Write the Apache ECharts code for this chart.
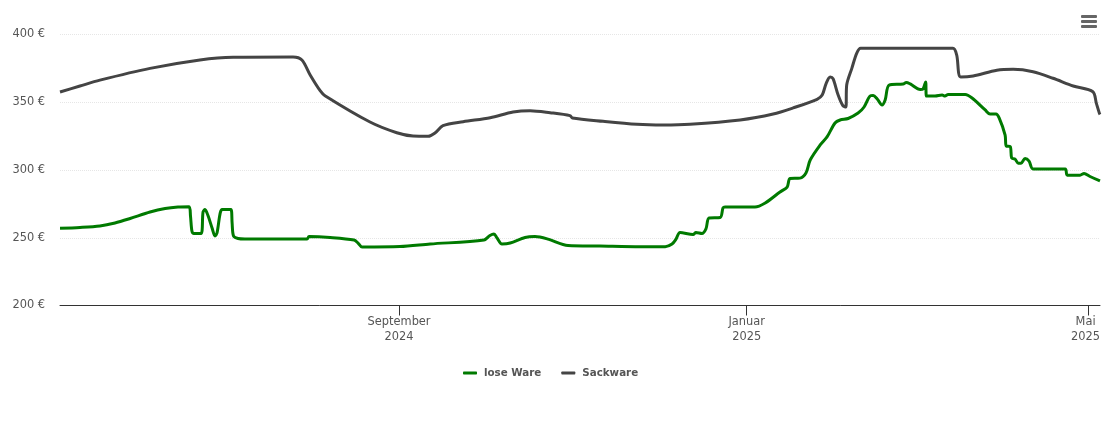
<!DOCTYPE html>
<html><head><meta charset="utf-8">
<script src="https://cdn.jsdelivr.net/npm/echarts@6/dist/echarts.min.js"></script>
<style>html,body{margin:0;padding:0;background:#fff}#c{width:1110px;height:423px}</style>
</head><body><div id="c"></div>
<script>
const startDate = '2024-05-05';
const endDay = 365;
const yTicks = { min: 200, max: 400, step: 50 };
const tickDates = ['2024-09-01', '2025-01-01', '2025-05-01'];
const tickLabels = ['September\n2024', 'Januar\n2025', 'Mai\n2025'];
const seriesNames = ['lose Ware', 'Sackware'];

const loseDays = [0,7,14,19.3,24.6,31.6,36.9,41.4,45.3,45.8,46.3,47,49.5,50.2,50.9,52,53.4,54.4,55.1,56.2,56.9,60,60.4,60.9,62.5,64.9,86.7,87.4,94.8,103.2,104.6,106,119.3,129.9,148.8,150.9,152.3,153.4,155.1,158,163.2,166.7,171.3,178.3,189.5,203.6,212.4,214.8,216.2,217.6,222.2,223.2,225.3,226.7,227.8,231.7,232.7,233.4,243.9,247.5,252.7,255.2,256.2,259.7,261.8,263.3,266.8,269.2,272,273.8,276.6,280.1,282.2,284.3,285.4,286.8,288.5,289.6,291,295.9,297,298.4,301.9,302.9,303.8,304.1,307.1,309.6,310.6,311.7,317.7,320.1,324.7,326.4,328.5,329.6,331.7,332.1,333.5,334,335.2,336.3,337.3,338.7,340.1,341.5,352.8,353.5,358,359.4,361.5,365];
const loseValues = [257,257.6,258.7,260.9,264.2,269,271.6,272.7,272.9,266,255,253.1,253.1,269,270.8,266,257,251.3,253.5,268,270.8,270.8,261,251.3,249.4,249,249,250.9,250.2,248.3,246.1,243.2,243.5,245.4,248.3,251.7,252.8,249.8,245.4,246.1,250.2,250.9,249,244.3,243.9,243.4,243.4,245.4,249,253.9,252.4,253.9,253.1,256.5,264.6,265,272,272.7,272.7,275.7,283.8,287.4,293.7,294,297.8,307.4,318.5,324.4,334.7,336.9,338,342,346.5,354.6,355,352.4,348,351.7,362.7,363.5,364.6,363.5,359.4,359.8,365,354.6,354.6,355.3,354.6,355.7,355.7,353.1,344.3,341.3,341.3,338.4,325.8,317.7,317.3,308.9,308,305,305,308.5,306.6,300.7,300.7,296.2,296.2,297.4,295.2,291.9];

const sackDays = [0,7,14,31.6,49.1,60.8,81.8,84.9,87.8,91.3,93,108.8,118.2,123.9,129.2,131.7,134.4,141.5,151,159,165,172,179,179.8,190.6,202.5,211.7,221.1,238.7,250.3,257.3,265.7,267.5,268.9,270.3,271.3,273.1,274.7,275.8,276.1,277.9,279.6,281,313.4,314.7,316.1,320.5,328.8,334.5,341.5,348.5,355.6,362.5,363.7,364.8,365];
const sackValues = [357.6,362,366.3,375,381.2,383.2,383.4,381.2,370.1,358.5,354.8,335.4,327.5,325.1,324.9,327.5,332.7,335.6,338.6,342.8,343.8,342.3,340.1,338.4,335.9,333.7,333.2,333.7,336.9,341.3,345.8,352.2,355.3,364,368.6,367.4,355.3,347.7,346.5,362.7,375,386.1,389.8,389.8,384.9,368.6,369.4,373.6,374.3,372.5,367.7,362,357.8,349.4,341.8,341];

const DAY = 86400000;
const t0 = Date.parse(startDate + 'T00:00:00Z');
const pts = (days, vals) => days.map((d, i) => [t0 + d * DAY, vals[i]]);
const tickTimes = tickDates.map(d => Date.parse(d + 'T00:00:00Z'));
const FONT = '"DejaVu Sans"';

const chart = echarts.init(document.getElementById('c'), null, { renderer: 'canvas' });
const lineSeries = (name, days, vals, color) => ({
  name, type: 'line', data: pts(days, vals), showSymbol: false, symbol: 'none',
  smooth: 0.3, lineStyle: { width: 3, color }, itemStyle: { color }, animation: false
});
chart.setOption({
  animation: false, backgroundColor: '#fff',
  grid: { left: 60, right: 10, top: 34.5, bottom: 117.5 },
  legend: {
    top: 363, left: 458, itemWidth: 14, itemHeight: 3, itemGap: 20, icon: 'roundRect',
    textStyle: { fontFamily: FONT, fontSize: 10.3, fontWeight: 'bold', color: '#555', padding: [0, 0, 0, 2] },
    data: seriesNames
  },
  xAxis: {
    type: 'value', min: t0, max: t0 + endDay * DAY, scale: true,
    axisLine: { lineStyle: { color: '#333', width: 1 } },
    splitLine: { show: false },
    axisTick: { show: true, length: 10, customValues: tickTimes, lineStyle: { color: '#333' } },
    axisLabel: {
      customValues: tickTimes, margin: 9, lineHeight: 15, hideOverlap: false,
      fontFamily: FONT, fontSize: 11.4, color: '#555',
      formatter: v => {
        const i = tickTimes.indexOf(v);
        if (i < 0) return '';
        return i === tickTimes.length - 1
          ? tickLabels[i].split('\n').map(s => '{e|' + s + '}').join('\n')
          : tickLabels[i];
      },
      rich: { e: { padding: [0, 6, 0, 0], fontFamily: FONT, fontSize: 11.4, color: '#555', lineHeight: 15 } }
    }
  },
  yAxis: {
    type: 'value', min: yTicks.min, max: yTicks.max, interval: yTicks.step,
    axisLine: { show: false }, axisTick: { show: false },
    splitLine: { lineStyle: { color: '#e6e6e6', type: 'dotted', width: 1 } },
    axisLabel: { formatter: '{value} €', margin: 15, padding: [0, 0, 5, 0], fontFamily: FONT, fontSize: 11.4, color: '#555' }
  },
  graphic: [15, 20, 25].map(y => ({
    type: 'rect', silent: true, shape: { x: 1081, y, width: 16, height: 3, r: 1 }, style: { fill: '#666' }
  })),
  series: [
    lineSeries(seriesNames[0], loseDays, loseValues, '#007a00'),
    lineSeries(seriesNames[1], sackDays, sackValues, '#444444')
  ]
});
</script></body></html>
